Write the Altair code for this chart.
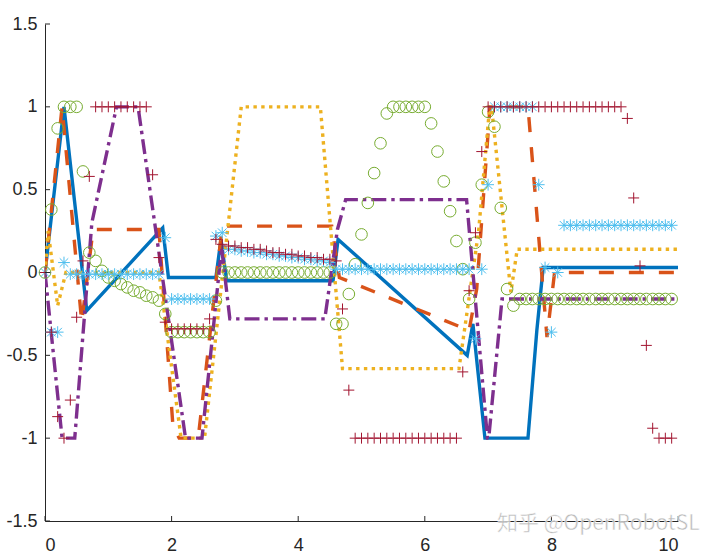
import altair as alt
import pandas as pd

# ---------------- data ----------------
# sample times of the marker series
t = [0.0, 0.1, 0.2, 0.3, 0.4, 0.5, 0.6, 0.7, 0.8, 0.9,
     1.0, 1.1, 1.2, 1.3, 1.4, 1.5, 1.6, 1.7, 1.8, 1.9,
     2.0, 2.1, 2.2, 2.3, 2.4, 2.5, 2.6, 2.7, 2.8, 2.9,
     3.0, 3.1, 3.2, 3.3, 3.4, 3.5, 3.6, 3.7, 3.8, 3.9,
     4.0, 4.1, 4.2, 4.3, 4.4, 4.5, 4.6, 4.7, 4.8, 4.9,
     5.0, 5.1, 5.2, 5.3, 5.4, 5.5, 5.6, 5.7, 5.8, 5.9,
     6.0, 6.1, 6.2, 6.3, 6.4, 6.5, 6.6, 6.7, 6.8, 6.9,
     7.0, 7.1, 7.2, 7.3, 7.4, 7.5, 7.6, 7.7, 7.8, 7.9,
     8.0, 8.1, 8.2, 8.3, 8.4, 8.5, 8.6, 8.7, 8.8, 8.9,
     9.0, 9.1, 9.2, 9.3, 9.4, 9.5, 9.6, 9.7, 9.8, 9.9]

green_y = [0.0, 0.38, 0.87, 1.0, 1.0, 1.0, 0.61, 0.12, 0.07, 0.01,
           -0.03, -0.05, -0.07, -0.09, -0.11, -0.12, -0.14, -0.15, -0.17, -0.25,
           -0.36, -0.36, -0.36, -0.36, -0.36, -0.36, -0.36, -0.17, 0.0, 0.0,
           0.0, 0.0, 0.0, 0.0, 0.0, 0.0, 0.0, 0.0, 0.0, 0.0,
           0.0, 0.0, 0.0, 0.0, 0.0, 0.0, -0.31, -0.31, -0.13, 0.05,
           0.23, 0.42, 0.6, 0.78, 0.96, 1.0, 1.0, 1.0, 1.0, 1.0,
           1.0, 0.9, 0.73, 0.55, 0.37, 0.19, 0.02, -0.16, 0.18, 0.53,
           0.97, 0.88, 0.39, -0.1, -0.2, -0.16, -0.16, -0.16, -0.16, -0.16,
           -0.16, -0.16, -0.16, -0.16, -0.16, -0.16, -0.16, -0.16, -0.16, -0.16,
           -0.16, -0.16, -0.16, -0.16, -0.16, -0.16, -0.16, -0.16, -0.16, -0.16]

lightblue_y = [0.0, -0.36, -0.36, 0.06, -0.01, -0.01, -0.01, -0.01, -0.01, -0.01,
               -0.01, -0.01, -0.01, -0.01, -0.01, -0.01, -0.01, -0.01, -0.01, 0.21,
               -0.16, -0.16, -0.16, -0.16, -0.16, -0.16, -0.16, 0.22, 0.24, 0.14,
               0.14, 0.13, 0.13, 0.12, 0.12, 0.11, 0.11, 0.10, 0.10, 0.09,
               0.09, 0.08, 0.08, 0.07, 0.07, 0.06, 0.02, 0.02, 0.02, 0.02,
               0.02, 0.02, 0.02, 0.02, 0.02, 0.02, 0.02, 0.02, 0.02, 0.02,
               0.02, 0.02, 0.02, 0.02, 0.02, 0.02, 0.02, 0.02, -0.4, 0.02,
               0.53, 1.0, 1.0, 1.0, 1.0, 1.0, 1.0, 1.0, 0.53, 0.03,
               -0.36, 0.0, 0.285, 0.285, 0.285, 0.285, 0.285, 0.285, 0.285, 0.285,
               0.285, 0.285, 0.285, 0.285, 0.285, 0.285, 0.285, 0.285, 0.285, 0.285]

darkred_y = [0.0, -0.36, -0.87, -1.0, -0.77, -0.27, 0.07, 0.58, 1.0, 1.0,
             1.0, 1.0, 1.0, 1.0, 1.0, 1.0, 1.0, 0.59, 0.09, -0.3,
             -0.34, -0.34, -0.34, -0.34, -0.34, -0.34, -0.28, 0.2, 0.17, 0.16,
             0.16, 0.15, 0.15, 0.14, 0.14, 0.13, 0.12, 0.12, 0.11, 0.11,
             0.10, 0.10, 0.09, 0.09, 0.08, 0.08, 0.07, -0.22, -0.71, -1.0,
             -1.0, -1.0, -1.0, -1.0, -1.0, -1.0, -1.0, -1.0, -1.0, -1.0,
             -1.0, -1.0, -1.0, -1.0, -1.0, -1.0, -0.6, -0.11, 0.24, 0.73,
             1.0, 1.0, 1.0, 1.0, 1.0, 1.0, 1.0, 1.0, 1.0, 1.0,
             1.0, 1.0, 1.0, 1.0, 1.0, 1.0, 1.0, 1.0, 1.0, 1.0,
             1.0, 1.0, 0.93, 0.45, 0.04, -0.44, -0.94, -1.0, -1.0, -1.0]

# line series (vertices)
blue_x = [0, 0.3, 0.66, 1.86, 1.95, 2.7, 2.78, 2.87, 4.55, 4.63, 6.67, 6.76, 6.95, 7.63, 7.77, 7.87, 10]
blue_y = [0, 1.0, -0.23, 0.27, -0.03, -0.03, 0.2, -0.05, -0.05, 0.2, -0.5, -0.31, -1.0, -1.0, -0.35, 0.03, 0.03]

orange_x = [0, 0.27, 0.58, 0.76, 1.8, 2.02, 2.12, 2.42, 2.8, 4.53, 4.65, 6.7, 6.82, 7.03, 7.63, 7.93, 8.05, 10]
orange_y = [0, 1.0, -0.3, 0.26, 0.26, -0.92, -1.0, -1.0, 0.28, 0.28, -0.03, -0.35, -0.1, 1.0, 1.0, -0.39, 0.0, 0.0]

yellow_x = [0, 0.05, 0.2, 0.33, 1.8, 2.15, 2.52, 3.1, 4.35, 4.7, 6.54, 6.85, 7.02, 7.06, 7.36, 7.46, 10]
yellow_y = [0, 0.25, -0.2, 0.0, 0.0, -1.0, -1.0, 1.0, 1.0, -0.58, -0.58, 0.25, 0.98, 0.98, -0.12, 0.14, 0.14]

purple_x = [0, 0.27, 0.47, 0.74, 1.13, 1.47, 2.22, 2.48, 2.79, 2.92, 4.42, 4.62, 4.75, 6.66, 6.99, 7.01, 7.22, 10]
purple_y = [0, -1.0, -1.0, 0.3, 1.0, 1.0, -1.0, -1.0, 0.15, -0.28, -0.28, 0.26, 0.44, 0.44, -1.0, -1.0, -0.16, -0.16]

x_ticks = [0, 2, 4, 6, 8, 10]
y_ticks = [-1.5, -1, -0.5, 0, 0.5, 1, 1.5]
watermark = "知乎 @OpenRobotSL"

# ---------------- chart ----------------
W, H = 633, 497
FONT = "Liberation Sans"
AX = "#262626"

xs = alt.Scale(domain=[0, 10], nice=False, zero=False)
ys = alt.Scale(domain=[-1.5, 1.5], nice=False, zero=False)

x_axis = alt.Axis(values=x_ticks, grid=False, ticks=False, tickSize=0, labelFontSize=18,
                  labelFont=FONT, labelColor=AX, labelPadding=15, domainColor=AX,
                  domainWidth=1, title=None, labelExpr="datum.value + ''")
y_axis = alt.Axis(values=y_ticks, grid=False, ticks=False, tickSize=0, labelFontSize=18,
                  labelFont=FONT, labelColor=AX, labelPadding=8, domainColor=AX,
                  domainWidth=1, title=None, labelExpr="datum.value + ''")

X = lambda: alt.X("x:Q", scale=xs, axis=x_axis, title=None)
Y = lambda: alt.Y("y:Q", scale=ys, axis=y_axis, title=None)


def line_layer(xv, yv, color, dash=None):
    df = pd.DataFrame({"x": xv, "y": yv})
    kw = dict(color=color, strokeWidth=3.4, clip=True)
    if dash is not None:
        kw["strokeDash"] = dash
    return alt.Chart(df).mark_line(**kw).encode(x=X(), y=Y(), order=alt.Order("x:Q"))


def marker_layer(yv, color, shape, size):
    df = pd.DataFrame({"x": t, "y": yv})
    return alt.Chart(df).mark_point(shape=shape, size=size, filled=False,
                                    strokeWidth=1, color=color, opacity=1).encode(x=X(), y=Y())


PLUS = "M-1,0L1,0M0,-1L0,1"
STAR = "M-1,0L1,0M0,-1L0,1M-0.72,-0.72L0.72,0.72M-0.72,0.72L0.72,-0.72"

blue = line_layer(blue_x, blue_y, "#0072BD")
orange = line_layer(orange_x, orange_y, "#D95319", dash=[15, 15])
yellow = line_layer(yellow_x, yellow_y, "#EDB120", dash=[3.4, 4.4])
purple = line_layer(purple_x, purple_y, "#7E2F8E", dash=[15, 5, 3.4, 5])

green = marker_layer(green_y, "#77AC30", "circle", 135)
lightblue = marker_layer(lightblue_y, "#4DBEEE", STAR, 140)
darkred = marker_layer(darkred_y, "#A2142F", PLUS, 120)

xt = alt.Chart(pd.DataFrame({"x": x_ticks})).mark_rule(color=AX, strokeWidth=1).encode(
    x=X(), y=alt.value(H), y2=alt.value(H - 5))
yt = alt.Chart(pd.DataFrame({"y": y_ticks})).mark_rule(color=AX, strokeWidth=1).encode(
    y=Y(), x=alt.value(0), x2=alt.value(5))

wm = alt.Chart(pd.DataFrame({"label": [watermark]})).mark_text(
    font="Noto Sans CJK SC", fontSize=21, color="#b4b4b4", opacity=0.9,
    align="left", baseline="alphabetic", stroke="#ffffff", strokeWidth=0.5).encode(
    text="label:N", x=alt.value(452), y=alt.value(506))

chart = alt.layer(blue, orange, yellow, purple, green, lightblue, darkred, xt, yt, wm).properties(
    width=W, height=H,
    padding={"left": 45, "top": 24, "right": 42, "bottom": 36},
    autosize=alt.AutoSizeParams(type="none"),
    background="white",
).configure_view(stroke=None)

chart.save("out.html", embed_options={"renderer": "svg", "actions": False})
